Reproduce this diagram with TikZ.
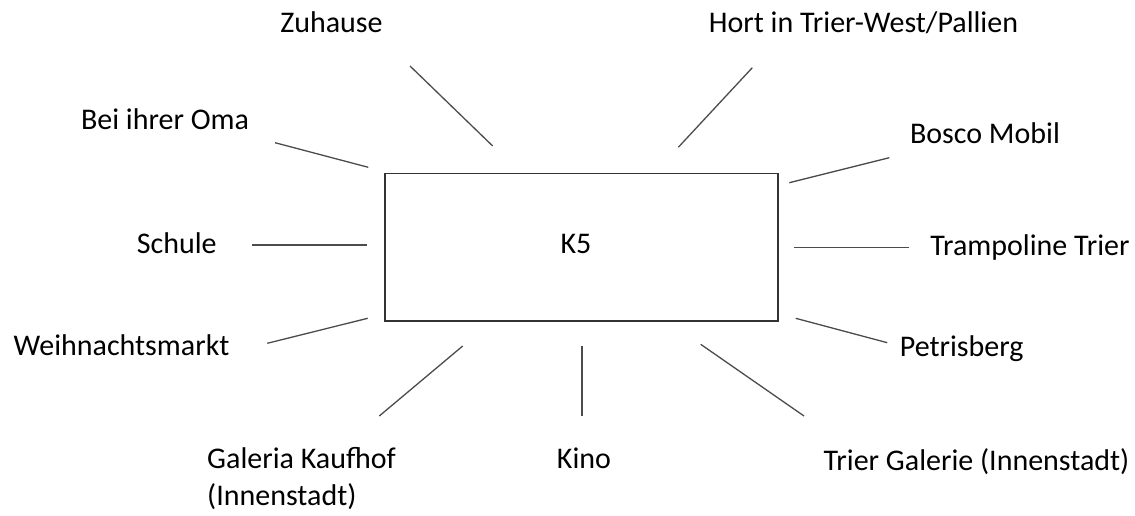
\documentclass[tikz,border=0pt]{standalone}
\usepackage{fontspec}
\setmainfont{Carlito}
\begin{document}
\begin{tikzpicture}[x=1pt,y=-1pt,
  lbl/.style={inner sep=0pt,anchor=base,font=\fontsize{30}{36.6}\selectfont,text=black},
  spoke/.style={draw=black!70,line width=1.3pt},
  frame/.style={draw=black!80,line width=1.5pt,minimum width=393pt,minimum height=147.7pt,inner sep=0pt}]
\useasboundingbox[fill=white] (0,0) rectangle (1135,516);

% central box
\node[frame] (box) at (581.7,247.2) {};
\node[lbl] (k5) at (576,253.3) {K5};

% surrounding labels
\node[lbl] (zuhause) at (331.5,33) {Zuhause};
\node[lbl] (hort) at (863.5,33) {Hort in Trier-West/Pallien};
\node[lbl] (oma) at (165,130) {Bei ihrer Oma};
\node[lbl] (bosco) at (985,143.3) {Bosco Mobil};
\node[lbl] (schule) at (176.7,253.3) {Schule};
\node[lbl] (trampo) at (1030,255) {Trampoline Trier};
\node[lbl] (weih) at (121.5,355) {Weihnachtsmarkt};
\node[lbl] (petris) at (961.7,356.7) {Petrisberg};
% two-line label: the base anchor sits on the last line
\node[lbl,anchor=base west,align=left] (galeria) at (207,505) {Galeria Kaufhof\\(Innenstadt)};
\node[lbl] (kino) at (584,468.3) {Kino};
\node[lbl] (triergal) at (976.5,470) {Trier Galerie (Innenstadt)};

% spoke end points
\coordinate (zuA) at (410,66);     \coordinate (zuB) at (492.7,146);
\coordinate (hoA) at (752.3,67.7); \coordinate (hoB) at (678.3,147.3);
\coordinate (omA) at (275,142.7);  \coordinate (omB) at (368.3,167.3);
\coordinate (boA) at (889.3,157.7);\coordinate (boB) at (789.3,182.7);
\coordinate (scA) at (252,245);    \coordinate (scB) at (367,245);
\coordinate (trA) at (909.3,247.7);\coordinate (trB) at (794,247.7);
\coordinate (weA) at (267.3,343.3);\coordinate (weB) at (367.7,318.3);
\coordinate (peA) at (887.3,342.7);\coordinate (peB) at (795.7,318.3);
\coordinate (gaA) at (379.3,416);  \coordinate (gaB) at (462.7,346);
\coordinate (kiA) at (582,416);    \coordinate (kiB) at (582,346);
\coordinate (tgA) at (804,416);    \coordinate (tgB) at (700.7,344.3);

% spokes
\draw[spoke] (zuA) -- (zuB);
\draw[spoke] (hoA) -- (hoB);
\draw[spoke] (omA) -- (omB);
\draw[spoke] (boA) -- (boB);
\draw[spoke] (scA) -- (scB);
\draw[spoke] (trA) -- (trB);
\draw[spoke] (weA) -- (weB);
\draw[spoke] (peA) -- (peB);
\draw[spoke] (gaA) -- (gaB);
\draw[spoke] (kiA) -- (kiB);
\draw[spoke] (tgA) -- (tgB);
\end{tikzpicture}
\end{document}
